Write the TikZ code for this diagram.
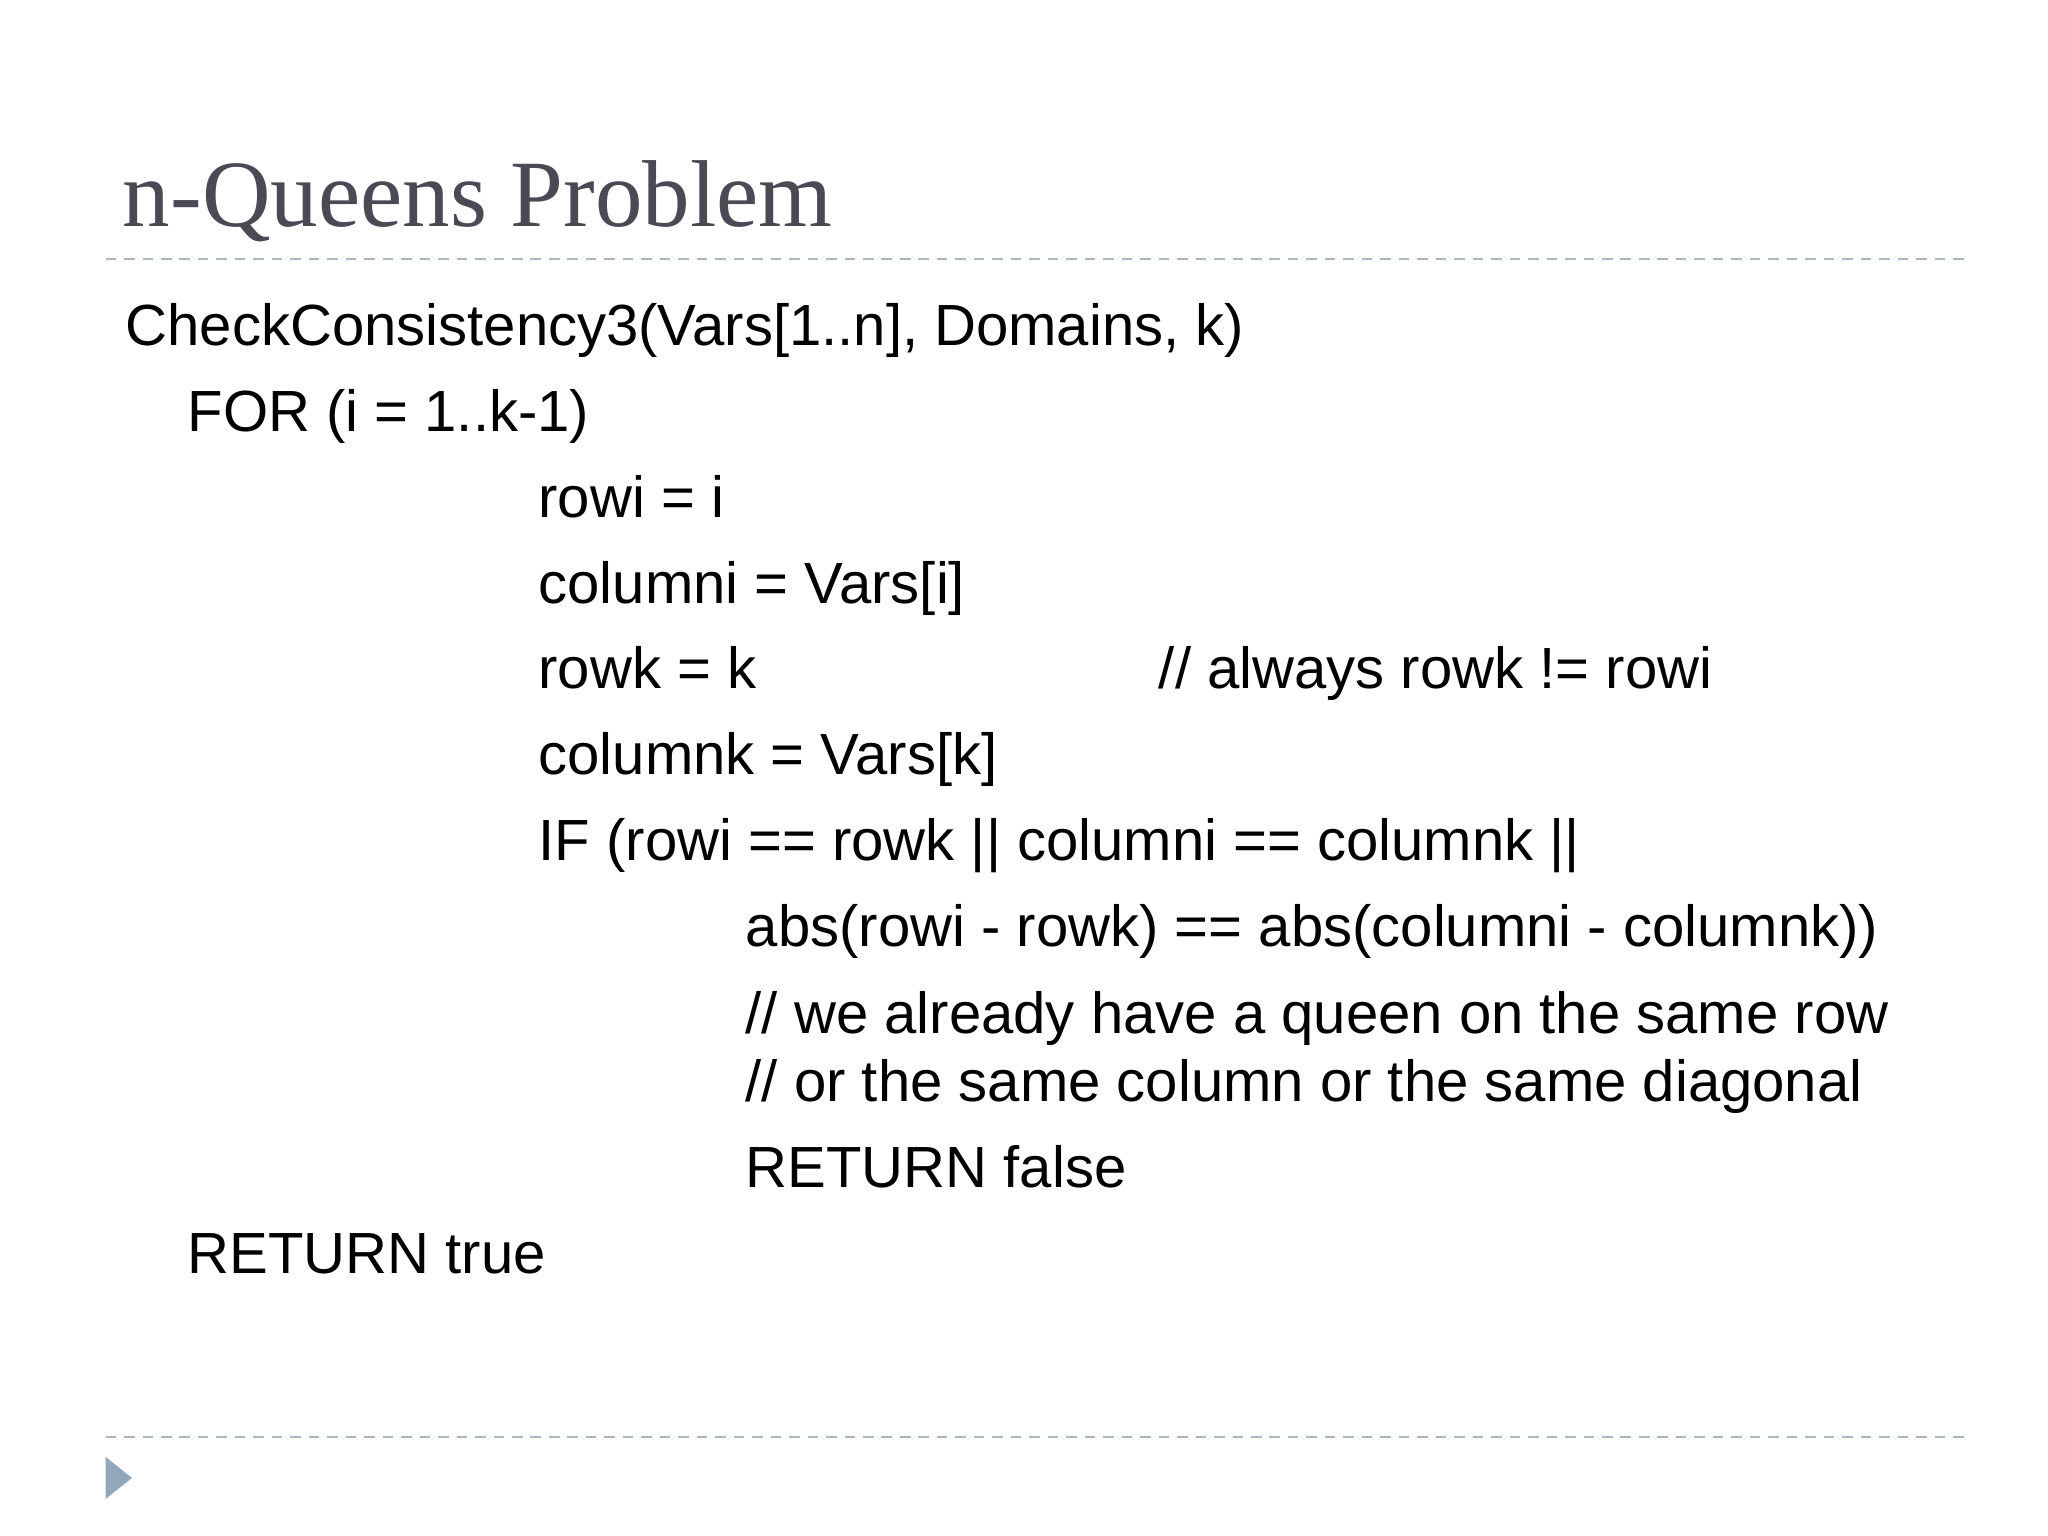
\documentclass[tikz,border=0pt]{standalone}
\usepackage{fontspec}
\setmainfont{Liberation Sans}
\newfontfamily\titlefont{Liberation Serif}
\definecolor{titlegray}{HTML}{4A4A55}
\definecolor{dashblue}{HTML}{A9B7C6}
\definecolor{tri}{HTML}{93A7BC}
\begin{document}
\begin{tikzpicture}[x=1pt,y=1pt,
  code/.style={anchor=base west,inner sep=0pt,font=\fontsize{44}{50}\selectfont},
  rule/.style={draw=dashblue,line width=1.5pt,dash pattern=on 8pt off 6pt}]
\useasboundingbox (0,0) rectangle (1552,-1164);
\fill[white] (0,0) rectangle (1552,-1164);
\node[anchor=base west,inner sep=0pt,text=titlegray,font=\titlefont\fontsize{72}{80}\selectfont] (title) at (93,-172) {n-Queens Problem};
\coordinate (r1a) at (80,-196); \coordinate (r1b) at (1490,-196);
\coordinate (r2a) at (80,-1089); \coordinate (r2b) at (1490,-1089);
\draw[rule] (r1a) -- (r1b);
\draw[rule] (r2a) -- (r2b);
\fill[tri] (80,-1104) -- (100,-1120) -- (80,-1136) -- cycle;
\node[code] (l1) at (95,-262) {CheckConsistency3(Vars[1..n], Domains, k)};
\node[code] (l2) at (142,-327) {FOR (i = 1..k-1)};
\node[code] (l3) at (408,-392) {rowi = i};
\node[code] (l4) at (408,-457) {columni = Vars[i]};
\node[code] (l5) at (408,-522) {rowk = k};
\node[code] (l5c) at (878,-522) {// always rowk != rowi};
\node[code] (l6) at (408,-587) {columnk = Vars[k]};
\node[code] (l7) at (408,-652) {IF (rowi == rowk || columni == columnk ||};
\node[code] (l8) at (565,-717) {abs(rowi - rowk) == abs(columni - columnk))};
\node[code] (l9) at (565,-783) {// we already have a queen on the same row};
\node[code] (l10) at (565,-835) {// or the same column or the same diagonal};
\node[code] (l11) at (565,-900) {RETURN false};
\node[code] (l12) at (142,-965) {RETURN true};
\end{tikzpicture}
\end{document}
